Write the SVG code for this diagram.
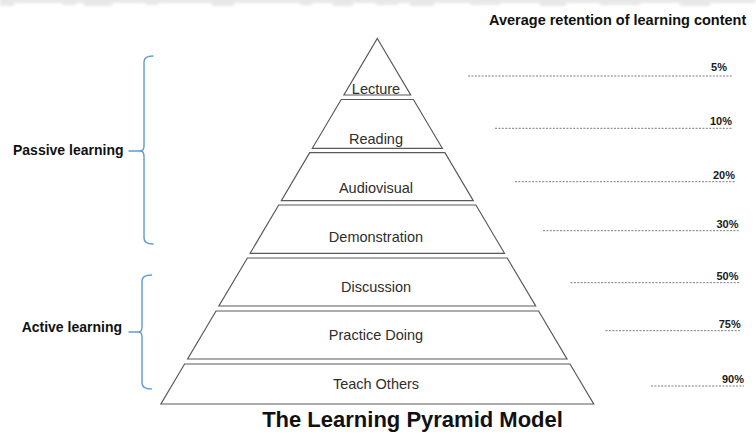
<svg xmlns="http://www.w3.org/2000/svg" width="756" height="434" viewBox="0 0 756 434">
  <defs>
    <filter id="soft" x="-10%" y="-50%" width="120%" height="200%">
      <feGaussianBlur stdDeviation="1.5"/>
    </filter>
  </defs>
  <style>
    .slab { fill: #ffffff; stroke: #5a5a5a; stroke-width: 1.2; stroke-linejoin: miter; }
    .slab-label { font-family: "Liberation Sans", Arial, sans-serif; font-size: 14.5px; fill: #2e2e2e; text-anchor: middle; }
    .group-label { font-family: "Liberation Sans", Arial, sans-serif; font-size: 14px; font-weight: bold; fill: #111111; text-anchor: end; }
    .brace { fill: none; stroke: #5b9bd5; stroke-width: 1.4; stroke-linecap: round; }
    .lead { stroke: #7a7a7a; stroke-width: 1; stroke-dasharray: 2 1.4; }
    .pct { font-family: "Liberation Sans", Arial, sans-serif; font-size: 11px; font-weight: bold; fill: #1a1a1a; text-anchor: end; }
    .header { font-family: "Liberation Sans", Arial, sans-serif; font-size: 14.5px; font-weight: bold; fill: #111111; }
    .title { font-family: "Liberation Sans", Arial, sans-serif; font-size: 22px; font-weight: bold; fill: #111111; text-anchor: middle; }
    .band { fill: #e2e2e2; }
  </style>

  <rect width="756" height="434" fill="#ffffff"/>

  <!-- faint strip along the top edge -->
  <g id="top-strip" filter="url(#soft)" opacity="0.8">
    <rect class="band" x="0" y="-4" width="756" height="7" fill="#f0f0f0"/>
    <rect class="band" x="0" y="-4" width="14" height="10"/>
    <rect class="band" x="62" y="-4" width="14" height="9"/>
    <rect class="band" x="84" y="-4" width="28" height="10"/>
    <rect class="band" x="146" y="-4" width="12" height="9"/>
    <rect class="band" x="212" y="-4" width="22" height="10"/>
    <rect class="band" x="300" y="-4" width="12" height="9"/>
    <rect class="band" x="333" y="-4" width="20" height="10"/>
    <rect class="band" x="376" y="-4" width="22" height="9"/>
    <rect class="band" x="410" y="-4" width="24" height="10"/>
    <rect class="band" x="470" y="-4" width="30" height="9"/>
    <rect class="band" x="540" y="-4" width="26" height="10"/>
    <rect class="band" x="600" y="-4" width="40" height="9"/>
    <rect class="band" x="680" y="-4" width="30" height="10"/>
  </g>

  <text class="header" x="489" y="25">Average retention of learning content</text>

  <!-- pyramid slabs, widest at the bottom -->
  <g id="lecture">
    <polygon class="slab" points="377.3,38.5 410.7,95 343.9,95"/>
    <text class="slab-label" x="376" y="93.5">Lecture</text>
  </g>
  <g id="reading">
    <polygon class="slab" points="341.2,99.5 413.4,99.5 442.3,148.3 312.3,148.3"/>
    <text class="slab-label" x="376" y="143.5">Reading</text>
  </g>
  <g id="audiovisual">
    <polygon class="slab" points="309.7,152.7 444.9,152.7 473.3,200.7 281.3,200.7"/>
    <text class="slab-label" x="376" y="193">Audiovisual</text>
  </g>
  <g id="demonstration">
    <polygon class="slab" points="278.7,205 475.9,205 504.5,253.3 250.1,253.3"/>
    <text class="slab-label" x="376" y="241.5">Demonstration</text>
  </g>
  <g id="discussion">
    <polygon class="slab" points="247.4,258 507.2,258 535.7,306 218.9,306"/>
    <text class="slab-label" x="376" y="291.5">Discussion</text>
  </g>
  <g id="practice-doing">
    <polygon class="slab" points="216,311 538.6,311 567,359 187.6,359"/>
    <text class="slab-label" x="376" y="340">Practice Doing</text>
  </g>
  <g id="teach-others">
    <polygon class="slab" points="184.6,364 570,364 593.7,404 160.9,404"/>
    <text class="slab-label" x="376" y="388.5">Teach Others</text>
  </g>

  <!-- group braces on the left -->
  <g id="passive-learning">
    <path class="brace" d="M153,56 Q144,56 144,62 L144,146 Q144,151 140,151 Q144,151 144,156 L144,238 Q144,244 153,244"/>
    <line class="brace" x1="129" y1="151" x2="140" y2="151"/>
    <text class="group-label" x="123.5" y="155">Passive learning</text>
  </g>
  <g id="active-learning">
    <path class="brace" d="M151.5,275 Q142,275 142,281 L142,327 Q142,332 138.5,332 Q142,332 142,337 L142,383 Q142,389 151.5,389"/>
    <line class="brace" x1="129" y1="332" x2="138.5" y2="332"/>
    <text class="group-label" x="122" y="332">Active learning</text>
  </g>

  <!-- retention leader lines -->
  <g id="connectors">
    <line class="lead" x1="468" y1="76" x2="733" y2="76"/>
    <line class="lead" x1="495" y1="128.3" x2="733" y2="128.3"/>
    <line class="lead" x1="515" y1="181.7" x2="735" y2="181.7"/>
    <line class="lead" x1="543" y1="230.7" x2="738.5" y2="230.7"/>
    <line class="lead" x1="570.5" y1="282.7" x2="740" y2="282.7"/>
    <line class="lead" x1="605.5" y1="330.7" x2="740.5" y2="330.7"/>
    <line class="lead" x1="651" y1="386" x2="744" y2="386"/>
  </g>

  <g id="retention-values">
    <text class="pct" x="727" y="71">5%</text>
    <text class="pct" x="732" y="124.5">10%</text>
    <text class="pct" x="735" y="178.5">20%</text>
    <text class="pct" x="738.5" y="228">30%</text>
    <text class="pct" x="738.5" y="280">50%</text>
    <text class="pct" x="740.7" y="328">75%</text>
    <text class="pct" x="744" y="383">90%</text>
  </g>

  <text class="title" x="412.5" y="427">The Learning Pyramid Model</text>
</svg>
